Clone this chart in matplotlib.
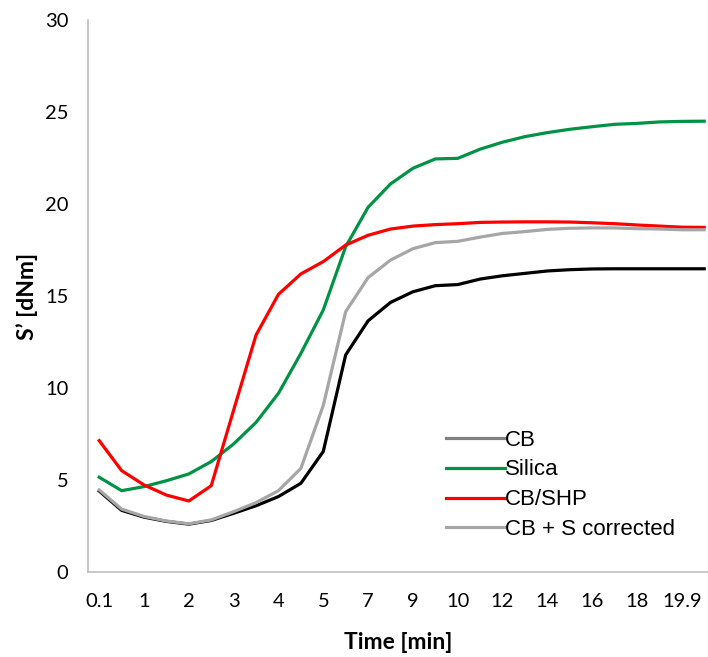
import matplotlib
matplotlib.use("Agg")
import matplotlib.pyplot as plt
from matplotlib.lines import Line2D

# category axis (Excel style), only every second label is shown
times = ["0.1", "0.5", "1", "1.5", "2", "2.5", "3", "3.5", "4", "4.5",
         "5", "6", "7", "8", "9", "9.5", "10", "11", "12", "13",
         "14", "15", "16", "17", "18", "19", "19.9", "20"]

cb = [4.40, 3.35, 2.98, 2.75, 2.60, 2.80, 3.19, 3.60, 4.10, 4.82,
      6.55, 11.80, 13.65, 14.65, 15.23, 15.56, 15.62, 15.92, 16.10, 16.23,
      16.36, 16.43, 16.47, 16.48, 16.48, 16.48, 16.48, 16.48]

silica = [5.15, 4.42, 4.64, 4.96, 5.33, 6.00, 6.96, 8.13, 9.71, 11.88,
          14.24, 17.68, 19.82, 21.09, 21.94, 22.45, 22.48, 22.98, 23.36, 23.66,
          23.88, 24.06, 24.20, 24.33, 24.38, 24.46, 24.49, 24.50]

cb_shp = [7.14, 5.51, 4.73, 4.18, 3.86, 4.69, 8.80, 12.88, 15.09, 16.20,
          16.87, 17.77, 18.30, 18.64, 18.80, 18.88, 18.93, 19.00, 19.02, 19.03,
          19.03, 19.02, 18.98, 18.93, 18.86, 18.80, 18.74, 18.73]

cb_s_corr = [4.46, 3.42, 3.02, 2.77, 2.62, 2.83, 3.28, 3.77, 4.42, 5.63,
             9.05, 14.15, 16.00, 16.95, 17.57, 17.90, 17.97, 18.20, 18.40, 18.50,
             18.62, 18.68, 18.70, 18.70, 18.66, 18.64, 18.60, 18.60]

labels = ["CB", "Silica", "CB/SHP", "CB + S corrected"]

fig = plt.figure(figsize=(7.08, 6.57), dpi=100)
ax = fig.add_axes([88/708., 85/657., 620/708., 552/657.])

x = list(range(len(times)))
lw = 2.3
ax.plot(x, cb, color='#000000', linewidth=lw)
ax.plot(x, silica, color='#009245', linewidth=lw)
ax.plot(x, cb_shp, color='#FF0000', linewidth=lw)
ax.plot(x, cb_s_corr, color='#A6A6A6', linewidth=lw)

ax.set_xlim(-0.5, 27.17)
ax.set_ylim(0, 30)
ax.set_yticks([0, 5, 10, 15, 20, 25, 30])
ax.set_xticks(x[::2])
ax.set_xticklabels(times[::2])

for s in ['top', 'right']:
	ax.spines[s].set_visible(False)
for s in ['left', 'bottom']:
	ax.spines[s].set_color('#BFBFBF')
	ax.spines[s].set_linewidth(1.2)

ax.tick_params(length=0, labelsize=14.5)
ax.tick_params(axis='x', pad=15)
ax.tick_params(axis='y', pad=14)
for t in ax.get_xticklabels() + ax.get_yticklabels():
	t.set_fontfamily('Lato')

ax.set_xlabel("Time [min]", fontfamily='Lato', fontweight='bold', fontsize=16.5, labelpad=16)
ax.set_ylabel("S\u2019 [dNm]", fontfamily='Lato', fontweight='bold', fontsize=16.5, labelpad=5)

# legend shows CB in mid grey (as in the original)
handles = [Line2D([], [], color='#808080', linewidth=lw),
           Line2D([], [], color='#009245', linewidth=lw),
           Line2D([], [], color='#FF0000', linewidth=lw),
           Line2D([], [], color='#A6A6A6', linewidth=lw)]
ax.legend(handles, labels, loc='upper left', bbox_to_anchor=(0.577, 0.258),
		  frameon=False, prop={'family': 'Liberation Sans', 'size': 16},
		  handlelength=2.66, handletextpad=0.0, labelspacing=0.40,
		  borderpad=0, borderaxespad=0)

fig.savefig("out.png", dpi=100)
